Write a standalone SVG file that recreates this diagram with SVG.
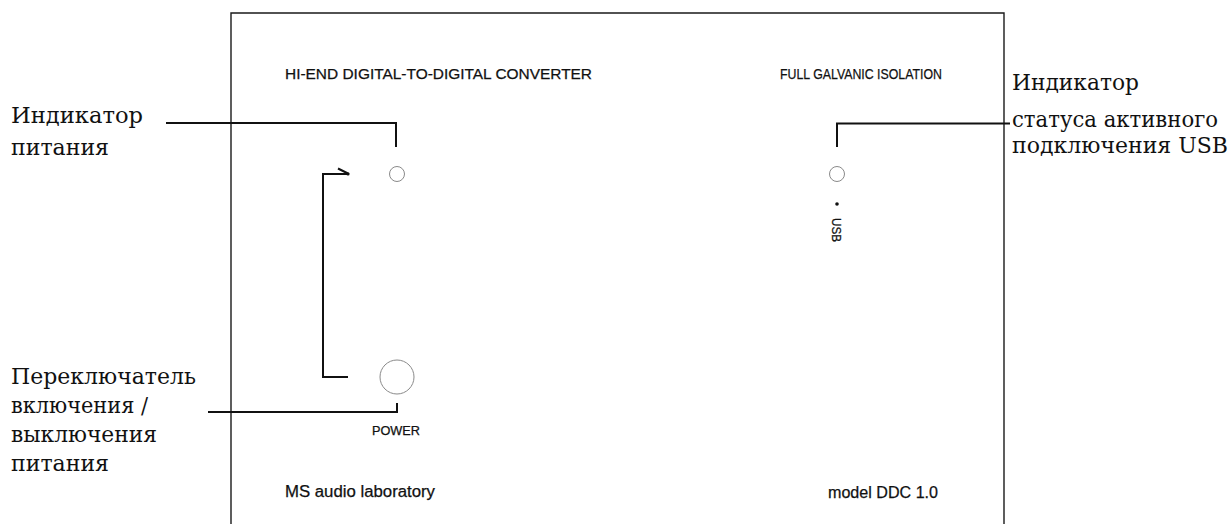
<svg xmlns="http://www.w3.org/2000/svg" width="1231" height="524" viewBox="0 0 1231 524">
<style>
.panel{fill:none;stroke:#1a1a1a;stroke-width:1.4}
.lead{fill:none;stroke:#111;stroke-width:2}
.led{fill:#fff;stroke:#8a8a8a;stroke-width:1}
.lbl{font-family:"DejaVu Serif","Liberation Serif",serif;font-size:22.5px;fill:#111}
.pnl{font-family:"Liberation Sans","DejaVu Sans",sans-serif;fill:#111;stroke:#111;stroke-width:0.25}
</style>
<rect width="1231" height="524" fill="#fff"/>
<g id="panel">
  <path class="panel" d="M231,524 V13 H1004 V524"/>
  <text class="pnl" x="285" y="79" font-size="15" textLength="307" lengthAdjust="spacingAndGlyphs">HI-END DIGITAL-TO-DIGITAL CONVERTER</text>
  <text class="pnl" x="780" y="79" font-size="15" textLength="162" lengthAdjust="spacingAndGlyphs">FULL GALVANIC ISOLATION</text>
  <text class="pnl" x="285" y="497" font-size="16" textLength="150" lengthAdjust="spacingAndGlyphs">MS audio laboratory</text>
  <text class="pnl" x="828" y="498" font-size="16" textLength="110" lengthAdjust="spacingAndGlyphs">model DDC 1.0</text>
</g>
<g id="power-led">
  <circle class="led" cx="397" cy="174" r="7.5"/>
</g>
<g id="usb-led">
  <circle class="led" cx="837" cy="174" r="7.5"/>
  <circle cx="837" cy="204" r="1.8" fill="#111"/>
  <text class="pnl" font-size="12" transform="translate(832,218) rotate(90)" textLength="24" lengthAdjust="spacingAndGlyphs">USB</text>
</g>
<g id="power-button">
  <circle class="led" cx="397" cy="377" r="17"/>
  <text class="pnl" x="372" y="435" font-size="12" textLength="48" lengthAdjust="spacingAndGlyphs">POWER</text>
</g>
<g id="label-power-led">
  <text class="lbl" x="11" y="123" textLength="132" lengthAdjust="spacingAndGlyphs">Индикатор</text>
  <text class="lbl" x="11" y="155" textLength="98" lengthAdjust="spacingAndGlyphs">питания</text>
</g>
<g id="label-usb">
  <text class="lbl" x="1012" y="90" textLength="127" lengthAdjust="spacingAndGlyphs">Индикатор</text>
  <text class="lbl" x="1012" y="127" textLength="206" lengthAdjust="spacingAndGlyphs">статуса активного</text>
  <text class="lbl" x="1012" y="153" textLength="216" lengthAdjust="spacingAndGlyphs">подключения USB</text>
</g>
<g id="label-switch">
  <text class="lbl" x="11" y="384" textLength="185" lengthAdjust="spacingAndGlyphs">Переключатель</text>
  <text class="lbl" x="11" y="413" textLength="137" lengthAdjust="spacingAndGlyphs">включения /</text>
  <text class="lbl" x="11" y="442" textLength="146" lengthAdjust="spacingAndGlyphs">выключения</text>
  <text class="lbl" x="11" y="471" textLength="98" lengthAdjust="spacingAndGlyphs">питания</text>
</g>
<g id="connectors">
  <path class="lead" d="M166,123 H396 V147"/>
  <path class="lead" d="M1010,123.5 H837 V147"/>
  <path class="lead" d="M208,412 H397 V403"/>
  <path class="lead" d="M348,377 H323 V174 H349"/>
  <path class="lead" d="M338,168.5 L349,174"/>
  <circle cx="348" cy="174" r="1.6" fill="#111"/>
</g>
</svg>
